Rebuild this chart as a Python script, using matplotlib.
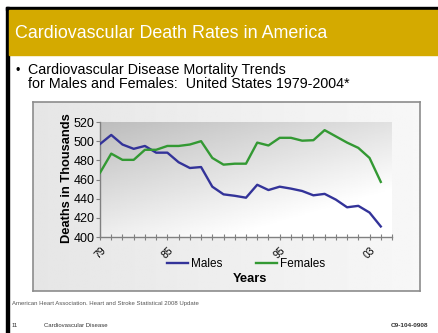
import matplotlib
matplotlib.use('Agg')
import matplotlib.pyplot as plt
import numpy as np
from matplotlib.lines import Line2D
from matplotlib.patches import Rectangle

plt.rcParams['font.family'] = ['Liberation Sans', 'DejaVu Sans']

# data (deaths in thousands)
years = list(range(1979, 2005))
males = [497, 506.5, 496.5, 492, 495, 488, 488, 478, 472, 473,
         452.5, 444.5, 443, 441, 454.5, 449, 452.5, 450.5, 448, 443.5,
         445, 439, 431, 432.5, 425.5, 411]
females = [467, 487, 480.5, 480.5, 491, 491, 495, 495, 496.5, 500,
           482.5, 475.5, 476.5, 476.5, 498.5, 495.5, 503.5, 503.5, 500.5, 501,
           511.5, 505, 498.5, 493, 482.5, 457.5]
tick_years = list(range(1979, 2006))
shown_labels = {1979: "79", 1985: "85", 1995: "95", 2003: "03"}
y_ticks = [400, 420, 440, 460, 480, 500, 520]

W, H = 438, 333
fig = plt.figure(figsize=(W / 100, H / 100), dpi=100)

# slide background / decorations in pixel coords
bg = fig.add_axes([0, 0, 1, 1])
bg.set_xlim(0, W)
bg.set_ylim(H, 0)
bg.axis('off')
bg.add_patch(Rectangle((6, 7), W, 3, color='black'))
bg.add_patch(Rectangle((6, 7), 3, H, color='black'))
bg.add_patch(Rectangle((9, 10), W, 45, color='#d4aa00'))
bg.text(15, 33, "Cardiovascular Death Rates in America", color='white',
        fontsize=12.9, va='center', ha='left')
bg.text(15, 74, "\u2022", fontsize=9, va='baseline')
bg.text(28, 74, "Cardiovascular Disease Mortality Trends", fontsize=10.3, va='baseline')
bg.text(28, 88, "for Males and Females:  United States 1979-2004*", fontsize=10.3, va='baseline')
bg.text(12, 305, "American Heart Association. Heart and Stroke Statistical 2008 Update",
        fontsize=4.3, color='#555555', va='baseline')
bg.text(12, 327, "11", fontsize=4.3, color='#333333', va='baseline')
bg.text(44, 327, "Cardiovascular Disease", fontsize=4.3, color='#333333', va='baseline')
bg.text(428, 327, "C9-104-0908", fontsize=4.6, color='#333333', va='baseline',
        ha='right', fontweight='bold')

# chart frame with light gradient
frame = fig.add_axes([33 / W, 1 - 291 / H, 387 / W, 189 / H])
gx = np.linspace(0, 1, 200)
frame.imshow(np.tile(0.90 + 0.07 * gx, (10, 1)), cmap='gray', vmin=0, vmax=1,
             extent=[0, 1, 0, 1], aspect='auto', transform=frame.transAxes)
frame.set_xticks([])
frame.set_yticks([])
for s in frame.spines.values():
    s.set_color('#8c8c8c')
    s.set_linewidth(1.2)

# plot area
ax = fig.add_axes([100 / W, 1 - 237 / H, 292 / W, 115 / H])
xx, yy = np.meshgrid(np.linspace(0, 1, 200), np.linspace(1, 0, 100))
grad = 0.74 + 0.26 * np.clip(0.55 * xx + 0.75 * (1 - yy), 0, 1)
ax.imshow(grad, cmap='gray', vmin=0, vmax=1, extent=[0, 1, 0, 1],
          aspect='auto', transform=ax.transAxes, zorder=0)

ax.plot(years, males, color='#333399', lw=1.7, label='Males', zorder=3)
ax.plot(years, females, color='#339933', lw=1.7, label='Females', zorder=3)

ax.set_xlim(1979, 2005)
ax.set_ylim(400, 520)
ax.set_yticks(y_ticks)
ax.set_yticklabels([str(v) for v in y_ticks], fontsize=9)
ax.set_xticks(tick_years)
ax.set_xticklabels([shown_labels.get(y, "") for y in tick_years], fontsize=7.5,
                   rotation=45, ha='center', va='center', rotation_mode='anchor')
ax.tick_params(axis='x', direction='inout', length=5, color='#808080', pad=9)
ax.tick_params(axis='y', direction='out', length=3, color='#808080', pad=1)
for s in ['top', 'right']:
    ax.spines[s].set_visible(False)
for s in ['left', 'bottom']:
    ax.spines[s].set_color('#808080')
    ax.spines[s].set_linewidth(1.0)

fig.text(67 / W, 1 - 178 / H, "Deaths in Thousands", rotation=90, fontsize=9.3,
         fontweight='bold', ha='center', va='center')
fig.text(250 / W, 1 - 279 / H, "Years", fontsize=9.3, fontweight='bold',
         ha='center', va='center')

handles = [Line2D([], [], color='#333399', lw=1.7),
           Line2D([], [], color='#339933', lw=1.7)]
fig.legend(handles, ['Males', 'Females'], loc='center', ncol=2,
           bbox_to_anchor=(246 / W, 1 - 264 / H), frameon=False, fontsize=8.5,
           handlelength=1.8, handletextpad=0.2, columnspacing=2.9,
           borderpad=0)

fig.savefig('out.png', dpi=100)
